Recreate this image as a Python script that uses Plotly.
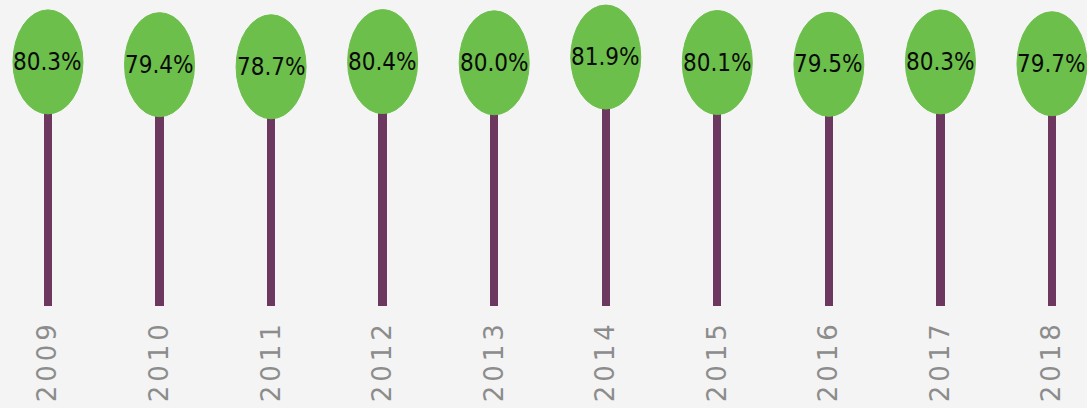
import plotly.graph_objects as go

years = ["2009", "2010", "2011", "2012", "2013", "2014", "2015", "2016", "2017", "2018"]
values = [80.3, 79.4, 78.7, 80.4, 80.0, 81.9, 80.1, 79.5, 80.3, 79.7]
labels = ["80.3%", "79.4%", "78.7%", "80.4%", "80.0%", "81.9%", "80.1%", "79.5%", "80.3%", "79.7%"]

xs = list(range(len(years)))
BG = "#f4f4f4"
GREEN = "#6cbf4b"
STEM = "#6d3860"

fig = go.Figure()
fig.add_trace(go.Bar(x=xs, y=values, width=0.075, marker=dict(color=STEM, line=dict(width=0)),
                     hoverinfo="skip", showlegend=False))

for x, v, t in zip(xs, values, labels):
    fig.add_shape(type="circle", xref="x", yref="y", xsizemode="pixel", ysizemode="pixel",
                  xanchor=x, yanchor=v, x0=-35, x1=35, y0=-52, y1=52,
                  fillcolor=GREEN, line=dict(color=GREEN, width=1), layer="above")
    fig.add_annotation(x=x, y=v, text=t, showarrow=False, xref="x", yref="y",
                       font=dict(family="Liberation Sans Narrow, DejaVu Sans Condensed, Roboto Condensed, sans-serif",
                                 size=24, color="#0a0a0a"))

fig.update_layout(
    width=1087, height=408,
    margin=dict(l=0, r=0, t=0, b=102),
    paper_bgcolor=BG, plot_bgcolor=BG,
    bargap=0,
    xaxis=dict(range=[-0.43, 9.314], tickmode="array", tickvals=xs, ticktext=years,
               tickangle=-90, showgrid=False, zeroline=False, showline=False, ticks="",
               ticklabelstandoff=8,
               tickfont=dict(family="DejaVu Sans", size=26, color="#8c8c8c")),
    yaxis=dict(range=[0, 100.66], visible=False, showgrid=False, zeroline=False),
)

post = (
    "document.body.style.margin='0';"
    "document.body.style.background='#f4f4f4';"
    "document.querySelectorAll('.xtick text').forEach(function(t){t.style.letterSpacing='4px';});"
)
fig.write_html("out.html", post_script=post, config={"displayModeBar": False})
